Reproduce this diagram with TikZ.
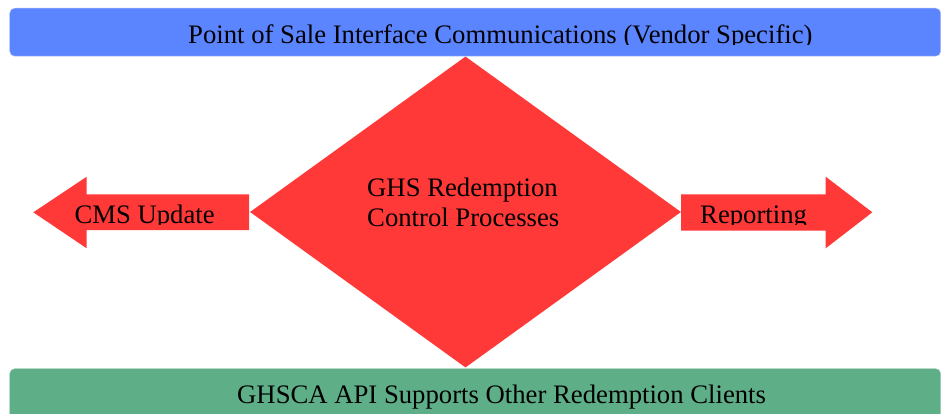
\documentclass[tikz,border=0pt]{standalone}
\usepackage{fontspec}
\setmainfont{Liberation Serif}
\usetikzlibrary{shapes.geometric,positioning}
\definecolor{posblue}{RGB}{91,132,255}
\definecolor{procred}{RGB}{255,56,56}
\definecolor{apigreen}{RGB}{94,174,136}

\begin{document}
\begin{tikzpicture}[x=1pt,y=-1pt,
    bar/.style={rounded corners=5pt, inner sep=0pt, anchor=north west, minimum width=931pt},
    label/.style={font=\fontsize{26.7}{30}\selectfont, inner sep=0pt, anchor=base west}]
    \useasboundingbox (0,0) rectangle (942,414);
    % bars
    \node[bar, draw=posblue!50, fill=posblue, minimum height=48pt] (pos) at (9.5,8) {};
    \node[bar, draw=apigreen!60, fill=apigreen, minimum height=70pt] (api) at (9.5,368.5) {};
    % diamond and side arrows
    \node[diamond, fill=procred, inner sep=0pt, minimum width=431pt, minimum height=311pt] (ctrl) at (465.5,212) {};
    \fill[procred] (249,194.3) -- (86.7,194.3) -- (86.7,176.7) -- (33.3,212.3) -- (86.7,248.3) -- (86.7,230) -- (249,230) -- cycle;
    \fill[procred] (681,194.3) -- (825.7,194.3) -- (825.7,176.7) -- (872.3,212.3) -- (825.7,248.3) -- (825.7,230.5) -- (681,230.5) -- cycle;
    % texts
    \begin{scope}
        \clip (0,0) rectangle (942,45);
        \node[label] (postext) at (188,44) {Point of Sale Interface Communications (Vendor Specific)};
    \end{scope}
    \node[label] (apitext) at (237,403) {GHSCA API Supports Other Redemption Clients};
    \node[label] (ctrltext1) at (367,196.7) {GHS Redemption};
    \node[label] (ctrltext2) at (367,226.7) {Control Processes};
    \begin{scope}
        \clip (0,0) rectangle (942,224);
        \node[label] (cmstext) at (74.3,223) {CMS Update};
        \node[label] (reptext) at (700,223) {Reporting};
    \end{scope}
\end{tikzpicture}
\end{document}
